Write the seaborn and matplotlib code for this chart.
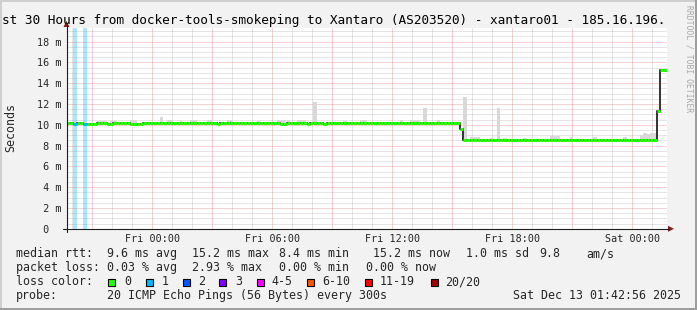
import numpy as np
import matplotlib
matplotlib.use("Agg")
import matplotlib.pyplot as plt
import matplotlib.transforms as mtransforms
from matplotlib.patches import Rectangle, Polygon
from matplotlib.lines import Line2D
import seaborn as sns

# ---------------- data ----------------
T_START = -4.284        # hours relative to Fri 00:00 (Thu 19:42:56)
STEP_H = 1 / 6          # one value per 10 minutes

median_ms = [
    10.15, 10.15, 10.1, 10.15, 10.15, 10.1, 10.05, 10.05, 10.05, 10.15, 10.15, 10.15, 10.05, 10.05, 10.15, 10.15, 10.15, 10.15,
    10.15, 10.05, 10.05, 10.05, 10.05, 10.15, 10.15, 10.15, 10.15, 10.15, 10.15, 10.15, 10.15, 10.15, 10.15, 10.15, 10.15, 10.15,
    10.15, 10.15, 10.15, 10.15, 10.15, 10.15, 10.15, 10.15, 10.15, 10.05, 10.15, 10.15, 10.15, 10.15, 10.15, 10.15, 10.15, 10.15,
    10.15, 10.15, 10.15, 10.15, 10.15, 10.15, 10.15, 10.15, 10.15, 10.15, 10.05, 10.05, 10.15, 10.15, 10.15, 10.15, 10.15, 10.15,
    10.05, 10.15, 10.15, 10.15, 10.15, 10.05, 10.15, 10.15, 10.15, 10.15, 10.15, 10.15, 10.15, 10.15, 10.15, 10.15, 10.15, 10.15,
    10.15, 10.15, 10.15, 10.15, 10.15, 10.15, 10.15, 10.15, 10.15, 10.15, 10.15, 10.15, 10.15, 10.15, 10.15, 10.15, 10.15, 10.15,
    10.15, 10.15, 10.15, 10.15, 10.15, 10.15, 10.15, 10.15, 10.15, 10.15, 9.55, 8.5, 8.5, 8.5, 8.5, 8.5, 8.5, 8.5,
    8.5, 8.5, 8.5, 8.5, 8.5, 8.5, 8.5, 8.5, 8.5, 8.5, 8.5, 8.5, 8.5, 8.5, 8.5, 8.5, 8.5, 8.5,
    8.5, 8.5, 8.5, 8.5, 8.5, 8.5, 8.5, 8.5, 8.5, 8.5, 8.5, 8.5, 8.5, 8.5, 8.5, 8.5, 8.5, 8.5,
    8.5, 8.5, 8.5, 8.5, 8.5, 8.5, 8.5, 8.5, 8.5, 8.5, 8.5, 8.5, 8.5, 8.5, 8.5, 11.3, 15.3, 15.3,
]

loss_idx = [2, 5]       # steps with packet loss
loss_count = [1, 1]     # lost pings out of 20

smoke_idx = [9, 10, 11, 13, 14, 19, 20, 28, 30, 31, 34, 37, 38, 42, 43, 48, 49, 57, 63, 64,
             65, 66, 69, 70, 71, 74, 83, 88, 89, 100, 103, 104, 105, 107, 111, 119, 121, 122, 123, 127,
             129, 131, 137, 145, 146, 147, 151, 158, 167, 172, 173, 174, 175, 176]
smoke_top = [10.35, 10.35, 10.35, 10.35, 10.35, 10.45, 10.45, 10.75, 10.45, 10.45, 10.35, 10.5, 10.5, 10.5, 10.5, 10.45, 10.45, 10.35, 10.45, 10.45,
             10.5, 10.5, 10.45, 10.45, 10.45, 12.2, 10.4, 10.5, 10.5, 10.45, 10.5, 10.5, 10.5, 11.6, 10.45, 12.7, 8.8, 8.8, 8.8, 8.75,
             11.6, 8.75, 8.7, 8.9, 8.95, 8.95, 8.8, 8.8, 8.8, 9.0, 9.2, 9.1, 9.25, 9.2]

xtick_hours = [0, 6, 12, 18, 24]
xtick_labels = ["Fri 00:00", "Fri 06:00", "Fri 12:00", "Fri 18:00", "Sat 00:00"]
ytick_ms = [0, 2, 4, 6, 8, 10, 12, 14, 16, 18]
ytick_labels = [" 0", " 2 m", " 4 m", " 6 m", " 8 m", "10 m", "12 m", "14 m", "16 m", "18 m"]

title = "st 30 Hours from docker-tools-smokeping to Xantaro (AS203520) - xantaro01 - 185.16.196."
rtt_texts = ["median rtt:", "9.6 ms avg", "15.2 ms max", "8.4 ms min", "15.2 ms now", "1.0 ms sd", "9.8", "am/s"]
loss_texts = ["packet loss:", "0.03 % avg", "2.93 % max", "0.00 % min", "0.00 % now"]
loss_labels = ["0", "1", "2", "3", "4-5", "6-10", "11-19", "20/20"]
loss_colors = ["#26ff00", "#00b8ff", "#0059ff", "#7e00ff", "#ff00ff", "#ff5500", "#ff0000", "#a10000"]
probe_texts = ["probe:", "20 ICMP Echo Pings (56 Bytes) every 300s", "Sat Dec 13 01:42:56 2025"]

# ---------------- figure ----------------
W, H = 697, 310
sns.set_style("white")
plt.rcParams["font.family"] = ["DejaVu Sans Mono", "DejaVu Sans"]

fig = plt.figure(figsize=(W / 100, H / 100), dpi=100)
fig.patch.set_facecolor("#f2f2f2")
px = mtransforms.Affine2D().scale(1 / W, -1 / H).translate(0, 1) + fig.transFigure

AX_L, AX_R, AX_T, AX_B = 66.5, 666.5, 28.0, 228.8
ax = fig.add_axes([AX_L / W, 1 - AX_B / H, (AX_R - AX_L) / W, (AX_B - AX_T) / H])
ax.set_facecolor("white")
YMAX = (AX_B - AX_T) / 10.4
n = len(median_ms)
T_END = T_START + n * STEP_H
ax.set_xlim(T_START, T_END)
ax.set_ylim(0, YMAX)

t = T_START + np.arange(n) * STEP_H
med = np.array(median_ms)

# loss bars
for i, c in zip(loss_idx, loss_count):
    ax.bar(t[i], YMAX, width=STEP_H, align="edge", color=loss_colors[c], alpha=0.33,
           linewidth=0, zorder=1)

# smoke
si = np.array(smoke_idx)
st = np.array(smoke_top)
ax.bar(t[si], st - med[si], bottom=med[si], width=STEP_H, align="edge",
       color="#d8d8d8", linewidth=0, zorder=2)

# dark step line of the median
step_x = np.append(t, T_END)
step_y = np.append(med, med[-1])
sns.lineplot(x=step_x, y=step_y, drawstyle="steps-post", estimator=None, color="#333333",
             linewidth=1.4, ax=ax, zorder=3)

# loss-coloured median segments
seg_colors = [loss_colors[0]] * n
for i, c in zip(loss_idx, loss_count):
    seg_colors[i] = loss_colors[c]
ax.hlines(med, t, t + STEP_H, colors=seg_colors, linewidth=2.2, zorder=4, capstyle="butt")

# grid
ax.set_axisbelow(True)
ax.set_xticks(np.arange(-3, T_END, 3))
ax.set_xticks(np.arange(-4, T_END, 1), minor=True)
ax.set_xticklabels([xtick_labels[xtick_hours.index(int(h))] if int(h) in xtick_hours else ""
                    for h in np.arange(-3, T_END, 3)])
ax.set_yticks(ytick_ms)
ax.set_yticks(np.arange(0, YMAX, 0.5), minor=True)
ax.set_yticklabels(ytick_labels, ha="left")
ax.grid(which="minor", color="#8f8f8f", alpha=0.45, linestyle=(0, (1, 1)), linewidth=0.72)
ax.grid(which="major", color="#de4f4f", alpha=0.5, linestyle=(0, (1, 1)), linewidth=0.72)
for s in ax.spines.values():
    s.set_visible(False)
ax.tick_params(axis="x", which="major", length=1.5, width=0.72, color="#1f1f1f",
               labelsize=7.3, pad=2.2, direction="out")
ax.tick_params(axis="x", which="minor", length=0)
ax.tick_params(axis="y", which="major", length=2.2, width=0.72, color="#1f1f1f",
               labelsize=7.3, pad=19.3, direction="out")
ax.tick_params(axis="y", which="minor", length=1.0, width=0.72, color="#1f1f1f")
ax.set_xlabel("")
ax.set_ylabel("")

# axes lines and arrows
fig.add_artist(Line2D([AX_L, AX_L], [232, 25], transform=px, color="#1f1f1f", lw=0.8))
fig.add_artist(Line2D([63, 669], [AX_B, AX_B], transform=px, color="#1f1f1f", lw=0.8))
fig.add_artist(Polygon([(63.5, 27), (69.5, 27), (66.5, 21)], closed=True, transform=px,
                       facecolor="#801f1f", edgecolor="none"))
fig.add_artist(Polygon([(668, 225.8), (668, 231.8), (674, AX_B)], closed=True, transform=px,
                       facecolor="#801f1f", edgecolor="none"))

# frame
fig.add_artist(Rectangle((0, 0), W, 2, transform=px, facecolor="#cfcfcf", edgecolor="none"))
fig.add_artist(Rectangle((0, 0), 2, H, transform=px, facecolor="#cfcfcf", edgecolor="none"))
fig.add_artist(Rectangle((0, H - 2), W, 2, transform=px, facecolor="#9e9e9e", edgecolor="none"))
fig.add_artist(Rectangle((W - 2, 0), 2, H, transform=px, facecolor="#9e9e9e", edgecolor="none"))

# texts
fig.text(2, 24, title, transform=px, fontsize=9.15, ha="left", va="baseline", color="black")
fig.text(10.5, 127.5, "Seconds", transform=px, fontsize=8.4, rotation=90,
         ha="center", va="center")
fig.text(688.5, 5, "RRDTOOL / TOBI OETIKER", transform=px, fontsize=5.8, rotation=270,
         ha="center", va="top", color="#a8a8a8")

for s, x in zip(rtt_texts, [16, 107.3, 191.7, 279.3, 372.7, 465.7, 539, 586.7]):
    fig.text(x, 257.3, s, transform=px, fontsize=8.4, ha="left", va="baseline")
for s, x in zip(loss_texts, [16, 107.3, 191.7, 279.3, 365.7]):
    fig.text(x, 271.3, s, transform=px, fontsize=8.4, ha="left", va="baseline")
fig.text(16, 285.3, "loss color:", transform=px, fontsize=8.4, ha="left", va="baseline")
box_x = [108.3, 145.7, 182.7, 219.3, 256.7, 307.3, 365, 430.7]
lab_x = [124, 161.7, 198.3, 235, 271.7, 322.7, 380, 445]
for lab, col, bx, lx in zip(loss_labels, loss_colors, box_x, lab_x):
    fig.add_artist(Rectangle((bx, 278.5), 7, 7.3, transform=px, facecolor=col,
                             edgecolor="black", linewidth=0.8))
    fig.text(lx, 285.3, lab, transform=px, fontsize=8.4, ha="left", va="baseline")
for s, x in zip(probe_texts, [16, 107.3, 513.3]):
    fig.text(x, 299.3, s, transform=px, fontsize=8.4, ha="left", va="baseline")

fig.savefig("out.png", dpi=100, facecolor=fig.get_facecolor())
